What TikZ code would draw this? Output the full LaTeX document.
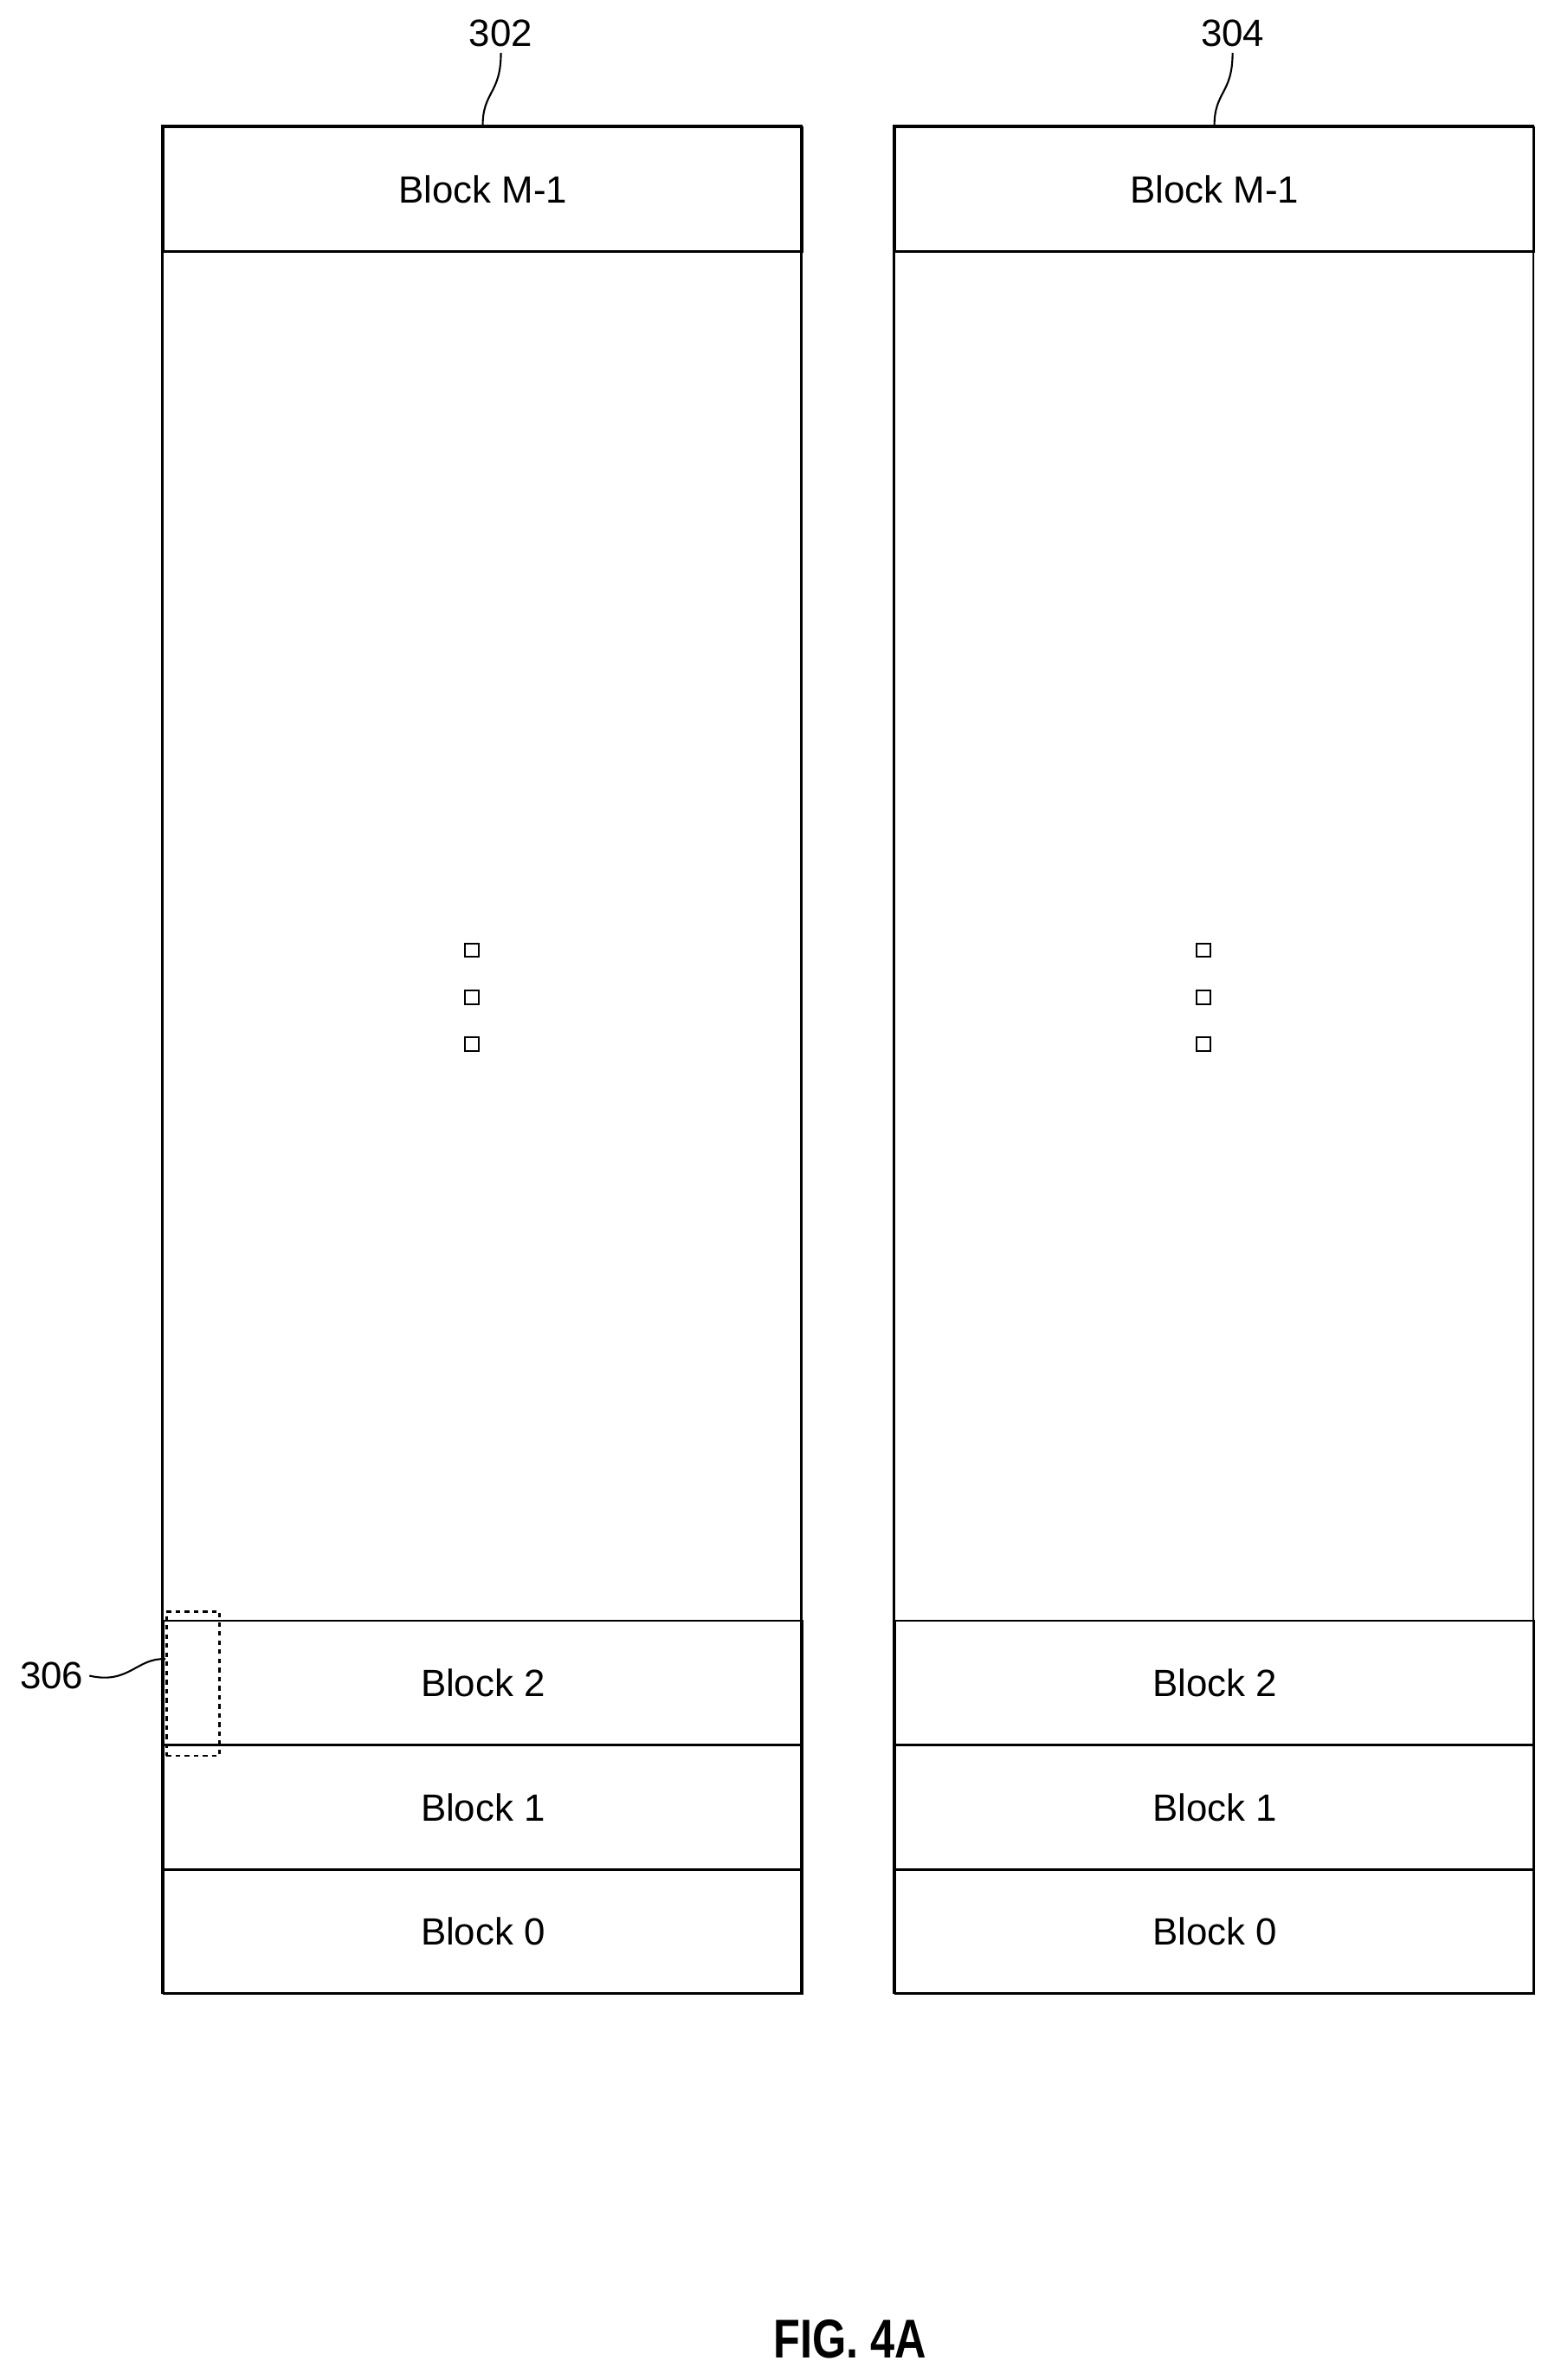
\documentclass[tikz,border=0pt]{standalone}
\usepackage{fontspec}
\setmainfont{Liberation Sans}
\begin{document}
\begin{tikzpicture}[x=1pt,y=-1pt,line width=1.4pt,
  lbl/.style={font=\fontsize{25}{30}\selectfont},
  blk/.style={draw,minimum width=421pt,minimum height=82pt,inner sep=0pt,anchor=north west,font=\fontsize{25}{30}\selectfont},
  dot/.style={draw,minimum size=9pt,inner sep=0pt,line width=1.2pt}]
\useasboundingbox (0,0) rectangle (1024,1568);
\foreach \c/\x/\n in {a/107/302,b/589/304}{
  \draw (\x,83) rectangle (\x+421,1313);
  \node[blk] (\c m) at (\x,83) {Block M-1};
  \node[blk] (\c 2) at (\x,1067) {Block 2};
  \node[blk] (\c 1) at (\x,1149) {Block 1};
  \node[blk] (\c 0) at (\x,1231) {Block 0};
  \node[dot] (\c d1) at (\x+204,626) {};
  \node[dot] (\c d2) at (\x+204,657) {};
  \node[dot] (\c d3) at (\x+204,688) {};
  \node[lbl] (\c l) at (\x+223,22) {\n};
  \coordinate (\c t) at (\x+211,83);
  \draw[line width=1.2pt] (\c t) .. controls (\x+211,60) and (\x+223,62) .. (\c l.south);
}
\node[draw,dashed,minimum width=35pt,minimum height=95pt,inner sep=0pt,anchor=north west] (r306) at (109,1061) {};
\node[lbl] (l306) at (34,1104) {306};
\draw[line width=1.2pt] (l306.east) .. controls (85,1110) and (90,1092) .. (r306.west|-0,1093);
\node[font=\bfseries\fontsize{36}{40}\selectfont,xscale=0.8] (fig) at (560,1541) {FIG. 4A};
\end{tikzpicture}
\end{document}
